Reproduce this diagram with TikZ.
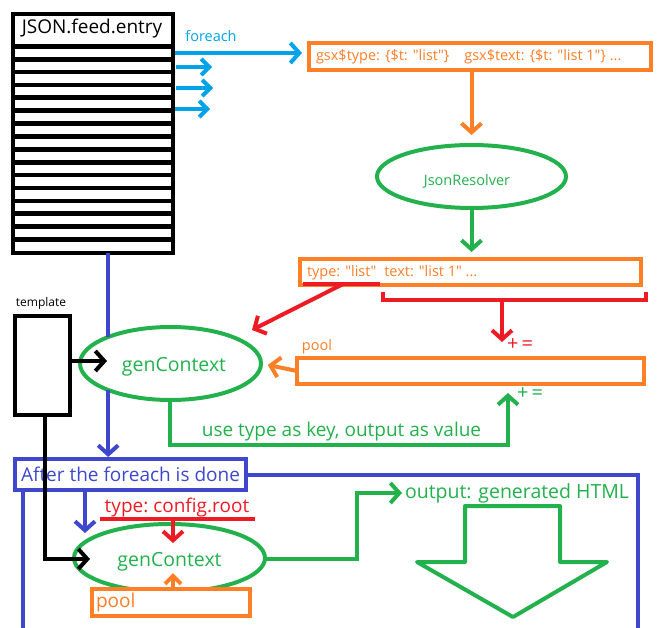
\documentclass[tikz,border=0pt]{standalone}
\usepackage{fontspec}
\setmainfont{Open Sans}
\usetikzlibrary{arrows.meta,shapes.geometric,calc}
\definecolor{skyblue}{HTML}{00A2E8}
\definecolor{flameorange}{HTML}{FF7F27}
\definecolor{leafgreen}{HTML}{22B14C}
\definecolor{alertred}{HTML}{ED1C24}
\definecolor{inkblue}{HTML}{3F48CC}
\newcommand\sq{\textquotedbl}
\begin{document}
\begin{tikzpicture}[x=1pt,y=-1pt,line width=4pt,
  box/.style={draw,rectangle,inner sep=0pt,outer sep=0pt,fill=white},
  oval/.style={draw=leafgreen,ellipse,inner sep=0pt,outer sep=0pt,text=leafgreen},
  lbl/.style={inner sep=0pt,outer sep=0pt},
  big/.style={font=\fontsize{19}{22}\selectfont},
  mid/.style={font=\fontsize{14.5}{17}\selectfont},
  small/.style={font=\fontsize{12}{14}\selectfont},
  sign/.style={font=\fontsize{20}{22}\selectfont},
  tip/.style={-{Straight Barb[length=9pt,width=20pt]}},
  smalltip/.style={-{Straight Barb[length=8pt,width=16pt]}}]
\useasboundingbox (0,0) rectangle (658,628);

% ---- feed entries ----
\node[box,minimum width=160pt,minimum height=239pt] (feed) at (93,133.5) {};
\foreach \i in {0,...,15}
  \draw[line width=4.7pt] (13,46.3+12.88*\i) -- (173,46.3+12.88*\i);
\node[lbl,big] (feedtitle) at (92,29) {JSON.feed.entry};

\node[lbl,mid,text=skyblue] (foreachlbl) at (211,36) {foreach};

% ---- raw entry ----
\node[box,draw=flameorange,minimum width=342pt,minimum height=27pt] (gsx) at (480,56.5) {};
\node[lbl,mid,text=flameorange,anchor=west] (gsxtext) at (316,57)
  {gsx\$type: \{\$t: \sq list\sq\}\hspace{15pt}gsx\$text: \{\$t: \sq list 1\sq\} ...};

\coordinate (f1) at (212,67);
\coordinate (f2) at (213,88);
\coordinate (f3) at (210,109);
\begin{scope}[draw=skyblue]
  \draw[tip] (feed.east |- gsx.west) ++(2,-3.5) -- ([xshift=-7pt,yshift=3.5pt]gsx.west);
  \draw[smalltip] (feed.east |- f1) ++(3,0) -- (f1);
  \draw[smalltip] (feed.east |- f2) ++(3,0) -- (f2);
  \draw[smalltip] (feed.east |- f3) ++(2,0) -- (f3);
\end{scope}

% ---- resolver ----
\node[oval,mid,minimum width=189pt,minimum height=63pt] (jr) at (471.5,176.5) {};
\node[lbl,mid,text=leafgreen] (jrtext) at (467,181) {JsonResolver};
\draw[flameorange,tip,shorten >=10pt] (jr.north |- gsx.south) -- (jr.north);

\node[box,draw=flameorange,minimum width=341pt,minimum height=26pt] (kv) at (470.5,272) {};
\node[lbl,mid,text=flameorange,anchor=west] (kvtext) at (307,273)
  {type: \sq list\sq\hspace{8pt}text: \sq list 1\sq{} ...};
\draw[leafgreen,tip,shorten >=7pt] (jr.south) -- (jr.south |- kv.north);

% ---- pool ----
\node[lbl,mid,text=flameorange] (poollbl) at (317,347) {pool};
\node[box,draw=flameorange,minimum width=347pt,minimum height=26pt] (pool) at (470.5,371) {};

% ---- first genContext ----
\node[oval,minimum width=181pt,minimum height=73pt] (gc1) at (170.5,363.5) {};
\node[lbl,font=\fontsize{19.5}{22}\selectfont,text=leafgreen] (gc1text) at (174,367) {genContext};

\coordinate (ul1a) at (303,284);
\coordinate (ul1b) at (380,284);
\coordinate (redtip) at (252,330);
\draw[alertred] (ul1a) -- (ul1b);
\draw[alertred,tip] ($(ul1a)!0.52!(ul1b)$) -- (redtip);

\coordinate (brl) at (383,292);
\coordinate (brr) at (646,292);
\coordinate (brm) at (502,300);
\draw[alertred] (brl) -- (brl |- brm) -- (brr |- brm) -- (brr);
\draw[alertred,tip,shorten >=16pt] (brm) -- (brm |- pool.north);
\node[lbl,sign,text=alertred] (plus1) at (520,345) {+\hspace{3pt}=};

\draw[flameorange,tip,shorten >=7pt] (pool.west) -- (gc1.east);

\node[lbl,font=\fontsize{19}{22}\selectfont,text=leafgreen] (usetype) at (341.5,432)
  {use type as key, output as value};
\coordinate (gcdown) at (170,445);
\coordinate (uptip) at (508,393);
\draw[leafgreen,tip] (gcdown |- gc1.south) -- (gcdown) -| (uptip);
\node[lbl,sign,text=leafgreen] (plus2) at (530,394) {+\hspace{3pt}=};

% ---- template ----
\node[lbl,small] (templbl) at (41,303) {template};
\node[box,minimum width=55pt,minimum height=99pt] (template) at (42.5,365.5) {};
\coordinate (blacktip) at (107,361);
\draw[tip] (template.east |- blacktip) -- (blacktip);

% ---- after the loop ----
\node[box,draw=inkblue,big,text=inkblue,minimum width=231pt,minimum height=31pt] (after) at (130.5,474.5)
  {After the foreach is done};

\draw[inkblue] (gc1.157 |- feed.south) -- (gc1.157);
\draw[inkblue,tip,shorten >=2pt] (gc1.203) -- (gc1.203 |- after.north);

\coordinate (rb) at (638,630);
\coordinate (lb) at (23,630);
\draw[inkblue] (after.east) -| (rb);
\draw[inkblue] (after.south -| lb) -- (lb);

% ---- second genContext ----
\node[oval,minimum width=191pt,minimum height=68pt] (gc2) at (169.5,558) {};
\node[lbl,font=\fontsize{19.5}{22}\selectfont,text=leafgreen] (gc2text) at (169.5,562) {genContext};

\coordinate (bluetip) at (85,533);
\draw[inkblue,tip] (after.south -| bluetip) -- (bluetip);

\coordinate (blackcorner) at (45,559);
\coordinate (blacktip2) at (90,559);
\draw[tip] (template.south -| blackcorner) -- (blackcorner) -- (blacktip2);

\node[lbl,big,text=alertred] (rootlbl) at (177,508) {type:~config.root};
\coordinate (ul2a) at (100,519);
\coordinate (ul2b) at (255,519);
\coordinate (rootarrow) at (173,519);
\coordinate (roottip) at (173,543);
\draw[alertred] (ul2a) -- (ul2b);
\draw[alertred,tip] (rootarrow) -- (roottip);

\node[box,draw=flameorange,minimum width=158pt,minimum height=27pt] (pool2) at (171,602.5) {};
\node[lbl,big,text=flameorange,anchor=west] (pool2text) at (96,603) {pool};
\coordinate (pooltip) at (173,573);
\draw[flameorange,smalltip] (pool2.north -| pooltip) -- (pooltip);

% ---- output ----
\node[lbl,font=\fontsize{19.5}{22}\selectfont,text=leafgreen,anchor=west] (out) at (405,493)
  {output: generated HTML};
\coordinate (gbend) at (357,559);
\draw[leafgreen,tip,shorten >=3pt] (gc2.east |- gbend) -- (gbend) |- (out.west);

\draw[leafgreen,line join=round] (465,506) -- (560,506) -- (560,562) -- (607,562)
  -- (513,617) -- (417,562) -- (465,562) -- cycle;
\end{tikzpicture}
\end{document}
